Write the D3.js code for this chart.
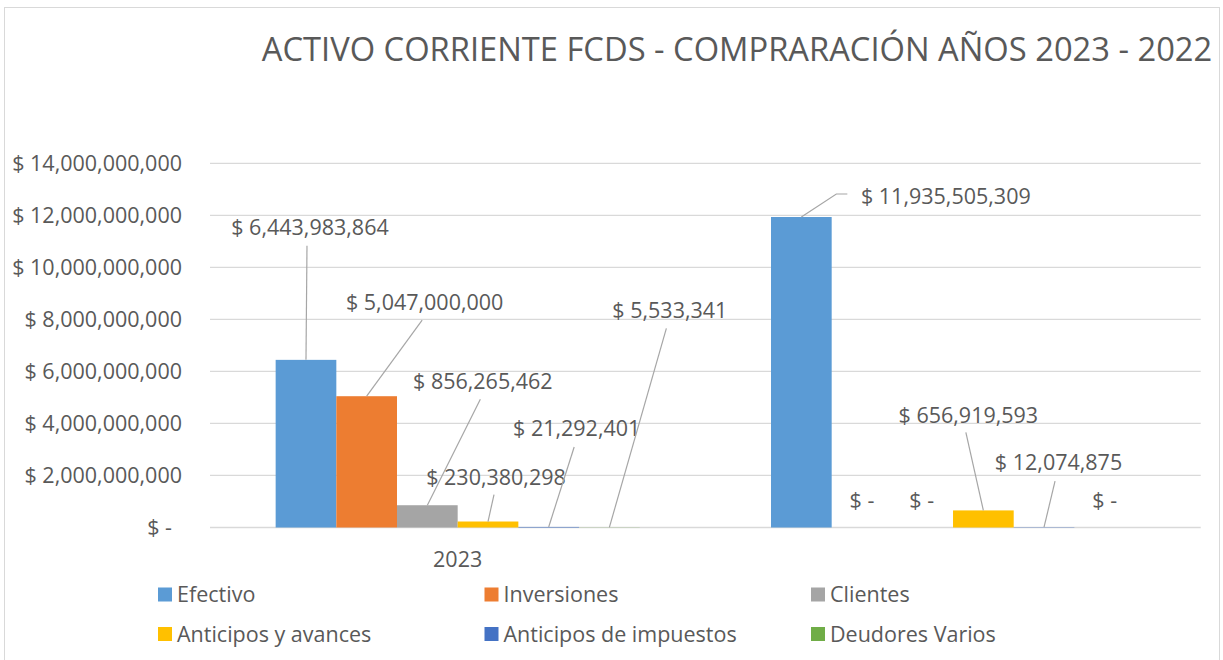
<!DOCTYPE html>
<html>
<head>
<meta charset="utf-8">
<script src="https://cdn.jsdelivr.net/npm/d3@7"></script>
<style>
  body { margin: 0; background: #fff; }
  svg text { font-family: "Open Sans", "Noto Sans", sans-serif; fill: #595959; }
</style>
</head>
<body>
<div id="chart"></div>
<script>
// data
const categories = ["2023", ""];
const series = ["Efectivo", "Inversiones", "Clientes", "Anticipos y avances", "Anticipos de impuestos", "Deudores Varios"];
const values2023 = [6443983864, 5047000000, 856265462, 230380298, 21292401, 5533341];
const values2022 = [11935505309, 0, 0, 656919593, 12074875, 0];
const yTicks = [0, 2e9, 4e9, 6e9, 8e9, 10e9, 12e9, 14e9];
const colors = ["#5B9BD5", "#ED7D31", "#A5A5A5", "#FFC000", "#4472C4", "#70AD47"];

// label placement (pixels from bar top centre): [labelDx, labelDy, leader points...]
const labelLayout = [
  [[4, -132, [1, -114]], [58, -94, [55.5, -76]], [55.5, -124, [53, -106]], [8, -44, [6, -27]], [28, -98, [25.5, -80]], [60.5, -217, [57, -199]]],
  [[144.5, -21, [46, -23], [35, -23]], [0, -27], [-1, -27], [-15, -95, [-17.5, -78]], [14.5, -65, [11, -46]], [0, -27]]
];

const W = 1223, H = 660;
const margin = { top: 163.3, right: 22.3, bottom: 132.5, left: 210 };
const fs = "21.5px";

const svg = d3.select("#chart").append("svg")
  .attr("width", W)
  .attr("height", H);

// chart frame
svg.append("rect")
  .attr("x", 4.5).attr("y", 7.5)
  .attr("width", 1215).attr("height", 700)
  .attr("fill", "none")
  .attr("stroke", "#D9D9D9");

svg.append("text")
  .attr("x", 737)
  .attr("y", 61)
  .attr("text-anchor", "middle")
  .style("font-size", "32.7px")
  .text("ACTIVO CORRIENTE FCDS - COMPRARACIÓN AÑOS 2023 - 2022");

const x0 = d3.scaleBand()
  .domain(d3.range(categories.length))
  .range([margin.left, W - margin.right]);

const gapRatio = 2.164 / (6 + 2.164) / 2;
const x1 = d3.scaleBand()
  .domain(d3.range(series.length))
  .range([x0.bandwidth() * gapRatio, x0.bandwidth() * (1 - gapRatio)]);

const y = d3.scaleLinear()
  .domain([0, 14e9])
  .range([H - margin.bottom, margin.top]);

const money = v => v === 0 ? "$ -" : "$ " + d3.format(",")(v);

// gridlines
svg.append("g")
  .selectAll("line")
  .data(yTicks)
  .join("line")
  .attr("x1", margin.left)
  .attr("x2", W - margin.right)
  .attr("y1", d => y(d))
  .attr("y2", d => y(d))
  .attr("stroke", "#D9D9D9")
  .attr("stroke-width", 1.3);

// y axis
const yAxis = svg.append("g")
  .attr("transform", `translate(${182},0)`)
  .call(d3.axisLeft(y).tickValues(yTicks).tickFormat(money).tickSize(0).tickPadding(0));
yAxis.select(".domain").remove();
yAxis.selectAll("text")
  .style("font-size", fs)
  .style("font-family", null)
  .attr("fill", "#595959")
  .attr("x", d => d === 0 ? -10 : 0);

// x axis labels
svg.append("g")
  .selectAll("text")
  .data(categories)
  .join("text")
  .attr("x", (d, i) => x0(i) + x0.bandwidth() / 2)
  .attr("y", 567)
  .attr("text-anchor", "middle")
  .style("font-size", fs)
  .text(d => d);

const yearValues = [values2023, values2022];

yearValues.forEach((vals, ci) => {
  const g = svg.append("g").attr("transform", `translate(${x0(ci)},0)`);

  g.selectAll("rect")
    .data(vals)
    .join("rect")
    .attr("x", (d, i) => x1(i))
    .attr("width", x1.bandwidth())
    .attr("y", d => y(d))
    .attr("height", d => y(0) - y(d))
    .attr("fill", (d, i) => colors[i]);

  vals.forEach((v, i) => {
    const cx = x1(i) + x1.bandwidth() / 2;
    const top = y(v);
    const lay = labelLayout[ci][i];
    const pts = lay.slice(2);
    if (pts.length) {
      const line = [[cx, top], ...pts.slice().reverse().map(p => [cx + p[0], top + p[1]])].reverse();
      g.append("path")
        .attr("d", d3.line()(line))
        .attr("fill", "none")
        .attr("stroke", "#A6A6A6")
        .attr("stroke-width", 1.2);
    }
    g.append("text")
      .attr("x", cx + lay[0])
      .attr("y", top + lay[1])
      .attr("dy", "0.35em")
      .attr("text-anchor", "middle")
      .style("font-size", fs)
      .text(money(v));
  });
});

// legend
const legend = svg.append("g");
series.forEach((s, i) => {
  const lx = 158 + (i % 3) * 326.5;
  const ly = 594.5 + Math.floor(i / 3) * 39.5;
  legend.append("rect")
    .attr("x", lx).attr("y", ly - 7)
    .attr("width", 14).attr("height", 14)
    .attr("fill", colors[i]);
  legend.append("text")
    .attr("x", lx + 19)
    .attr("y", ly)
    .attr("dy", "0.35em")
    .style("font-size", fs)
    .text(s);
});
</script>
</body>
</html>
